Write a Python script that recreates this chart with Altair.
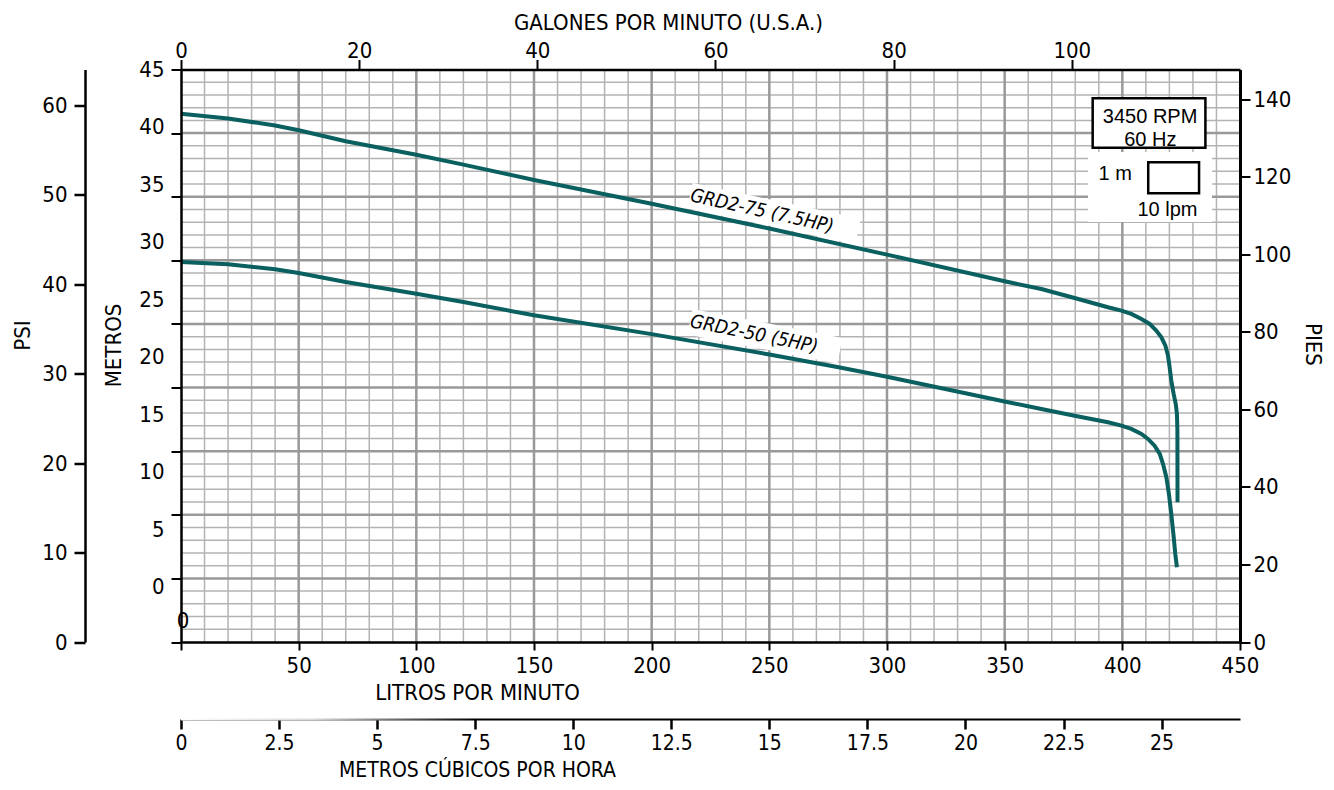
import altair as alt
import pandas as pd

# ---------------- data ----------------
flow75 = [0, 20, 40, 50, 70, 100, 120, 150, 200, 250, 300, 350, 365.6, 379.7, 393.9, 399.6,
          403.8, 408.1, 411.6, 414.4, 416.6, 418.3, 419.4, 420.1, 420.8, 421.8, 422.7, 423.2,
          423.4, 423.45]
head75 = [41.52, 41.15, 40.6, 40.22, 39.36, 38.3, 37.52, 36.32, 34.45, 32.5, 30.45, 28.35,
          27.75, 27.04, 26.31, 26.05, 25.79, 25.39, 25.0, 24.48, 23.95, 23.30, 22.51, 21.59,
          20.55, 19.50, 18.71, 17.92, 16.61, 10.98]
flow50 = [0, 20, 40, 50, 70, 100, 120, 150, 200, 250, 280, 300, 350, 365.6, 379.7, 393.9,
          399.6, 403.8, 408.1, 410.9, 413.7, 415.9, 417.3, 418.7, 419.8, 420.8, 421.7, 422.5,
          423.2]
head50 = [29.87, 29.69, 29.3, 29.0, 28.3, 27.38, 26.72, 25.68, 24.2, 22.6, 21.57, 20.85,
          18.9, 18.32, 17.79, 17.27, 17.01, 16.75, 16.35, 15.96, 15.43, 14.78, 13.99, 12.95,
          11.64, 10.07, 8.49, 6.92, 5.87]

curve_names = ["GRD2-75 (7.5HP)", "GRD2-50 (5HP)"]
label_lpm = [246.9, 243.5]
label_m = [33.88, 24.21]
label_angle = [12.5, 11.5]
box_lpm = [216.3, 216.3]
box_m = [35.08, 25.18]
box_lpm2 = [287.7, 280.0]
box_m2 = [32.27, 22.9]

lpm_ticks = list(range(0, 451, 50))
gpm_ticks = [0, 20, 40, 60, 80, 100]
m3h_ticks = [0, 2.5, 5, 7.5, 10, 12.5, 15, 17.5, 20, 22.5, 25]
psi_ticks = [0, 10, 20, 30, 40, 50, 60]
ft_ticks = [0, 20, 40, 60, 80, 100, 120, 140]
m_ticks = [0, 5, 10, 15, 20, 25, 30, 35, 40, 45]
vgrid_minor = [v for v in range(10, 450, 10) if v % 50]
vgrid_major = [v for v in range(50, 450, 50)]
hgrid_minor = [v for v in range(1, 45) if v % 5]
hgrid_major = [v for v in range(5, 45, 5)]

legend_texts = ["3450 RPM", "60 Hz", "1 m", "10 lpm"]
legend_text_lpm = [411.8, 411.9, 397.0, 419.2]
legend_text_m = [41.29, 39.46, 36.79, 33.96]
legend_bg = {"lpm": [385.4], "lpm2": [438.1], "m": [38.52], "m2": [33.01]}
legend_boxes = {"lpm": [387.4, 411.0], "lpm2": [435.3, 432.6], "m": [42.74, 37.71], "m2": [38.85, 35.27]}
stray_zero = {"lpm": [0.85], "m": [1.65], "t": ["0"]}
# faded start of the m3/h axis line (in lpm / metres of the main scales)
fade = {"lpm": [0], "lpm2": [125], "m": [-5.93], "m2": [-6.17]}

LPM_MAX = 450.0
M_MAX = 45.0
GPM_MAX = LPM_MAX / 3.78541
M3H_MAX = LPM_MAX * 60 / 1000
PSI_MAX = M_MAX / 0.70307
FT_MAX = M_MAX * 3.28084

FONT = "Liberation Sans Narrow, Arial Narrow, DejaVu Sans Condensed, sans-serif"
NFONT = "Liberation Sans, Arial, sans-serif"
TEAL = "#0a5f5f"


def ax(**kw):
    base = dict(labelFont=FONT, labelFontSize=22, labelColor="black", titleFont=FONT,
                titleFontSize=22, titleColor="black", titleFontWeight="normal",
                domainColor="black", tickColor="black", grid=False, labelFlush=False,
                labelOverlap=False, titleAlign="center", titleBaseline="middle")
    base.update(kw)
    return alt.Axis(**base)


x_axis = ax(orient="bottom", values=lpm_ticks,
            labelExpr="datum.value == 0 ? '' : datum.label",
            tickSize=8, tickWidth=2, domainWidth=2.5, labelPadding=5,
            title="LITROS POR MINUTO", titleX=296, titleY=50, zindex=1)
y_axis = ax(orient="left", values=m_ticks, labels=False, tickSize=10, tickWidth=2,
            domainWidth=2.5, title="", zindex=1)

xs = alt.Scale(domain=[0, LPM_MAX], nice=False, zero=False)
ys = alt.Scale(domain=[0, M_MAX], nice=False, zero=False)
X = alt.X("lpm:Q", scale=xs, axis=x_axis)
Y = alt.Y("m:Q", scale=ys, axis=y_axis)

vmin = alt.Chart(pd.DataFrame({"lpm": vgrid_minor})).mark_rule(color="#b3b3b3", strokeWidth=1.5).encode(x=X)
hmin = alt.Chart(pd.DataFrame({"m": hgrid_minor})).mark_rule(color="#b3b3b3", strokeWidth=1.5).encode(y=Y)
vmaj = alt.Chart(pd.DataFrame({"lpm": vgrid_major})).mark_rule(color="#999999", strokeWidth=2.5).encode(x=X)
hmaj = alt.Chart(pd.DataFrame({"m": hgrid_major})).mark_rule(color="#999999", strokeWidth=2.5).encode(y=Y)

boxes = alt.Chart(pd.DataFrame({"lpm": box_lpm, "m": box_m, "lpm2": box_lpm2, "m2": box_m2})).mark_rule(
    color="white", strokeWidth=26, strokeCap="butt").encode(
    x=X, y=Y, x2=alt.X2("lpm2:Q"), y2=alt.Y2("m2:Q"))

lbg = alt.Chart(pd.DataFrame(legend_bg)).mark_rect(fill="white").encode(
    x=X, y=Y, x2=alt.X2("lpm2:Q"), y2=alt.Y2("m2:Q"))
lbox = alt.Chart(pd.DataFrame(legend_boxes)).mark_rect(fill="white", stroke="black", strokeWidth=2.5).encode(
    x=X, y=Y, x2=alt.X2("lpm2:Q"), y2=alt.Y2("m2:Q"))

fade_rect = alt.Chart(pd.DataFrame(fade)).mark_rect(
    color=alt.Gradient(gradient="linear", x1=0, x2=1, y1=0, y2=0,
                       stops=[alt.GradientStop(color="rgba(255,255,255,1)", offset=0),
                              alt.GradientStop(color="rgba(255,255,255,0.85)", offset=0.45),
                              alt.GradientStop(color="rgba(255,255,255,0)", offset=1)])).encode(
    x=X, y=Y, x2=alt.X2("lpm2:Q"), y2=alt.Y2("m2:Q"))

rows = []
for name, fl, hd in ((curve_names[0], flow75, head75), (curve_names[1], flow50, head50)):
    for i, (f, h) in enumerate(zip(fl, hd)):
        rows.append({"name": name, "i": i, "lpm": f, "m": h})
curves = alt.Chart(pd.DataFrame(rows)).mark_line(color=TEAL, strokeWidth=4, strokeCap="butt").encode(
    x=X, y=Y, detail="name:N", order="i:Q")

clabels = alt.Chart(pd.DataFrame({"lpm": label_lpm, "m": label_m, "t": curve_names, "a": label_angle})).mark_text(
    font=FONT, fontStyle="italic", fontSize=19, color="black", align="center", baseline="middle").encode(
    x=X, y=Y, text="t:N", angle=alt.Angle("a:Q", scale=None))

ltext = alt.Chart(pd.DataFrame({"lpm": legend_text_lpm, "m": legend_text_m, "t": legend_texts})).mark_text(
    font=NFONT, fontSize=20, color="black", align="center", baseline="middle").encode(
    x=X, y=Y, text="t:N")

zero_t = alt.Chart(pd.DataFrame(stray_zero)).mark_text(
    font=FONT, fontSize=22, color="black", align="center", baseline="middle").encode(
    x=X, y=Y, text="t:N")

main = alt.layer(vmin, hmin, vmaj, hmaj, boxes, lbg, lbox, fade_rect, curves, clabels, ltext, zero_t)

gpm_layer = alt.Chart(pd.DataFrame({"gpm": [0, GPM_MAX]})).mark_point(opacity=0).encode(
    x=alt.X("gpm:Q", scale=alt.Scale(domain=[0, GPM_MAX], nice=False, zero=False),
            axis=ax(orient="top", values=gpm_ticks, tickSize=10, tickWidth=2, domainWidth=2.5,
                    labelPadding=2, labelBaseline="alphabetic",
                    title="GALONES POR MINUTO (U.S.A.)", titleX=487, titleY=-47.5, zindex=1)))

m3h_layer = alt.Chart(pd.DataFrame({"m3h": [0, M3H_MAX]})).mark_point(opacity=0).encode(
    x=alt.X("m3h:Q", scale=alt.Scale(domain=[0, M3H_MAX], nice=False, zero=False),
            axis=ax(orient="bottom", offset=77, values=m3h_ticks,
                    labelExpr="'' + datum.value", labelFontSize=21, tickSize=10,
                    tickWidth=2.5, domainWidth=2, labelPadding=3,
                    title="METROS CÚBICOS POR HORA", titleFontSize=21, titleX=296, titleY=51)))

psi_layer = alt.Chart(pd.DataFrame({"psi": [0, PSI_MAX]})).mark_point(opacity=0).encode(
    y=alt.Y("psi:Q", scale=alt.Scale(domain=[0, PSI_MAX], nice=False, zero=False),
            axis=ax(orient="left", offset=96, values=psi_ticks, tickSize=11, tickWidth=2.5,
                    domainWidth=2.5, labelPadding=7, title="PSI", titleX=-63, titleY=265.5)))

ft_layer = alt.Chart(pd.DataFrame({"ft": [0, FT_MAX]})).mark_point(opacity=0).encode(
    y=alt.Y("ft:Q", scale=alt.Scale(domain=[0, FT_MAX], nice=False, zero=False),
            axis=ax(orient="right", values=ft_ticks, tickSize=10, tickWidth=2, domainWidth=3,
                    labelPadding=3, title="PIES", titleX=72, titleY=274.5, zindex=1)))

mlab_layer = alt.Chart(pd.DataFrame({"mlab": [-4.8, 45]})).mark_point(opacity=0).encode(
    y=alt.Y("mlab:Q", scale=alt.Scale(domain=[-4.8, 45], nice=False, zero=False),
            axis=ax(orient="left", values=m_ticks, ticks=False, domain=False, labelPadding=17,
                    title="METROS", titleX=-68, titleY=275.5)))

chart = alt.layer(main, gpm_layer, m3h_layer, psi_layer, ft_layer, mlab_layer).resolve_scale(
    x="independent", y="independent").properties(
    width=1059, height=572.5,
    autosize=alt.AutoSizeParams(type="none"),
    padding={"left": 173, "top": 61.5, "right": 86, "bottom": 140},
    background="white").configure_view(strokeWidth=0)

chart.save("out.html", embed_options={"renderer": "svg", "actions": False})
